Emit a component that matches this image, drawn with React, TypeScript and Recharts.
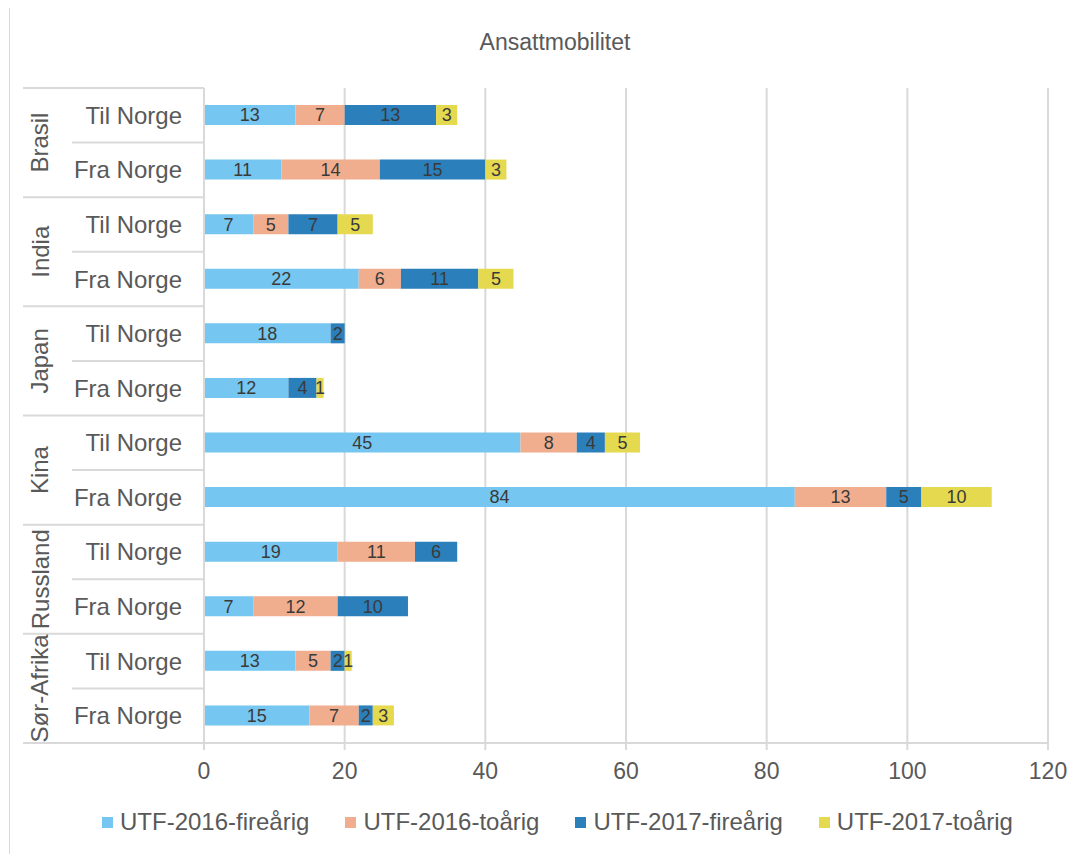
import { BarChart, Bar, XAxis, YAxis, CartesianGrid, LabelList, Legend } from 'recharts';

const countries = ['Brasil', 'India', 'Japan', 'Kina', 'Russland', 'Sør-Afrika'];
const directions = ['Til Norge', 'Fra Norge'];
const seriesNames = ['UTF-2016-fireårig', 'UTF-2016-toårig', 'UTF-2017-fireårig', 'UTF-2017-toårig'];
const seriesColors = ['#75c6f0', '#f1ae8e', '#2b7fbb', '#e4d94f'];

// one value per row: Brasil Til, Brasil Fra, India Til, India Fra, ...
const fire2016 = [13, 11, 7, 22, 18, 12, 45, 84, 19, 7, 13, 15];
const to2016 = [7, 14, 5, 6, 0, 0, 8, 13, 11, 12, 5, 7];
const fire2017 = [13, 15, 7, 11, 2, 4, 4, 5, 6, 10, 2, 2];
const to2017 = [3, 3, 5, 5, 0, 1, 5, 10, 0, 0, 1, 3];
const xTicks = [0, 20, 40, 60, 80, 100, 120];

const FONT = "'Liberation Sans', Arial, sans-serif";
const W = 1074;
const H = 846;
const TOP = 80;
const BOTTOM = 735;
const BAND = (BOTTOM - TOP) / (countries.length * directions.length);

const data = countries.flatMap((c, ci) =>
  directions.map((d, di) => {
    const i = ci * 2 + di;
    return { key: `${c}|${d}`, s0: fire2016[i], s1: to2016[i], s2: fire2017[i], s3: to2017[i] };
  })
);

const CategoryTick = (props: any) => {
  const { y, payload } = props;
  const index = props.index ?? payload.index;
  const [country, dir] = String(payload.value).split('|');
  const top = y - BAND / 2;
  const groupStart = index % 2 === 0;
  const last = index === data.length - 1;
  return (
    <g>
      <line x1={groupStart ? 13 : 62} x2={194} y1={top} y2={top} stroke="#d9d9d9" strokeWidth={2} />
      {last && <line x1={13} x2={194} y1={top + BAND} y2={top + BAND} stroke="#d9d9d9" strokeWidth={2} />}
      <text x={172} y={y} textAnchor="end" dominantBaseline="central" fontSize={24} fill="#595959" fontFamily={FONT}>
        {dir}
      </text>
      {groupStart && (
        <text
          x={30}
          y={top + BAND}
          transform={`rotate(-90 30 ${top + BAND})`}
          textAnchor="middle"
          dominantBaseline="central"
          fontSize={24}
          fill="#595959"
          fontFamily={FONT}
        >
          {country}
        </text>
      )}
    </g>
  );
};

const LegendContent = () => (
  <div style={{ display: 'flex', alignItems: 'center', fontFamily: FONT, fontSize: 24, color: '#595959', whiteSpace: 'nowrap' }}>
    {seriesNames.map((n, i) => (
      <div key={n} style={{ display: 'flex', alignItems: 'center', marginRight: i < 3 ? 36 : 0 }}>
        <span style={{ display: 'inline-block', width: 11, height: 11, background: seriesColors[i], marginRight: 7 }} />
        <span>{n}</span>
      </div>
    ))}
  </div>
);

const hideZero = (v: any) => (v ? v : '');

export default function App() {
  const keys = ['s0', 's1', 's2', 's3'];
  return (
    <div
      style={{
        position: 'relative',
        width: W,
        height: H,
        marginTop: -1,
        marginLeft: 1,
        border: '1px solid #d9d9d9',
        borderBottom: 'none',
        background: '#fff',
        fontFamily: FONT,
      }}
    >
      <div
        style={{
          position: 'absolute',
          top: 23,
          left: 545,
          transform: 'translateX(-50%)',
          fontSize: 23,
          lineHeight: '23px',
          color: '#595959',
          whiteSpace: 'nowrap',
        }}
      >
        Ansattmobilitet
      </div>
      <BarChart
        width={W}
        height={H}
        data={data}
        layout="vertical"
        margin={{ top: TOP, right: W - 1038, bottom: H - BOTTOM - 40, left: 0 }}
        barCategoryGap={0}
      >
        <CartesianGrid horizontal={false} vertical stroke="#d9d9d9" strokeWidth={2} />
        <XAxis
          type="number"
          domain={[0, 120]}
          ticks={xTicks}
          height={40}
          axisLine={{ stroke: '#d9d9d9', strokeWidth: 2 }}
          tickLine={{ stroke: '#d9d9d9', strokeWidth: 2 }}
          tickSize={7}
          tickMargin={13}
          tick={{ fill: '#595959', fontSize: 23, fontFamily: FONT }}
        />
        <YAxis
          type="category"
          dataKey="key"
          width={194}
          interval={0}
          axisLine={{ stroke: '#d9d9d9', strokeWidth: 2 }}
          tickLine={false}
          tick={<CategoryTick />}
        />
        <Legend
          layout="horizontal"
          verticalAlign="middle"
          align="center"
          content={<LegendContent />}
          wrapperStyle={{ top: 800, left: 92, width: 1000, height: 30 }}
        />
        {keys.map((k, i) => (
          <Bar key={k} dataKey={k} name={seriesNames[i]} stackId="a" fill={seriesColors[i]} barSize={20} isAnimationActive={false}>
            <LabelList dataKey={k} position="center" formatter={hideZero} fill="#3a3a3a" fontSize={18} fontFamily={FONT} />
          </Bar>
        ))}
      </BarChart>
    </div>
  );
}
